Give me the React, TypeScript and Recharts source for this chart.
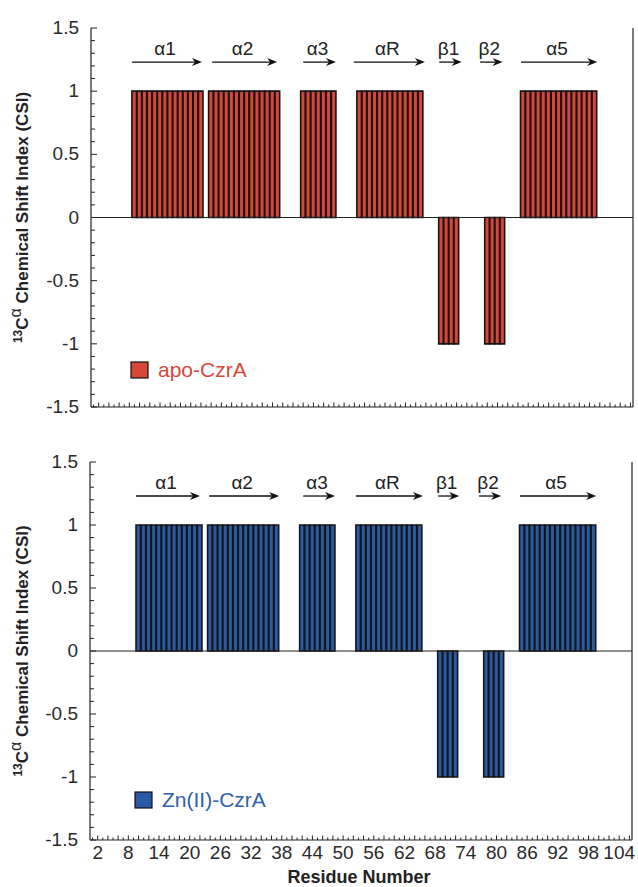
import React from 'react';
import { BarChart, Bar, XAxis, YAxis, ReferenceLine, Legend } from 'recharts';

const residues = [
  1, 2, 3, 4, 5, 6, 7, 8, 9, 10,
  11, 12, 13, 14, 15, 16, 17, 18, 19, 20,
  21, 22, 23, 24, 25, 26, 27, 28, 29, 30,
  31, 32, 33, 34, 35, 36, 37, 38, 39, 40,
  41, 42, 43, 44, 45, 46, 47, 48, 49, 50,
  51, 52, 53, 54, 55, 56, 57, 58, 59, 60,
  61, 62, 63, 64, 65, 66, 67, 68, 69, 70,
  71, 72, 73, 74, 75, 76, 77, 78, 79, 80,
  81, 82, 83, 84, 85, 86, 87, 88, 89, 90,
  91, 92, 93, 94, 95, 96, 97, 98, 99, 100,
  101, 102, 103, 104, 105, 106,
];

const apoCSI = [
  0, 0, 0, 0, 0, 0, 0, 0, 1, 1,
  1, 1, 1, 1, 1, 1, 1, 1, 1, 1,
  1, 1, 0, 1, 1, 1, 1, 1, 1, 1,
  1, 1, 1, 1, 1, 1, 1, 0, 0, 0,
  0, 1, 1, 1, 1, 1, 1, 1, 0, 0,
  0, 0, 1, 1, 1, 1, 1, 1, 1, 1,
  1, 1, 1, 1, 1, 0, 0, 0, -1, -1,
  -1, -1, 0, 0, 0, 0, 0, -1, -1, -1,
  -1, 0, 0, 0, 1, 1, 1, 1, 1, 1,
  1, 1, 1, 1, 1, 1, 1, 1, 1, 0,
  0, 0, 0, 0, 0, 0,
];

const znCSI = [
  0, 0, 0, 0, 0, 0, 0, 0, 0, 1,
  1, 1, 1, 1, 1, 1, 1, 1, 1, 1,
  1, 1, 0, 1, 1, 1, 1, 1, 1, 1,
  1, 1, 1, 1, 1, 1, 1, 0, 0, 0,
  0, 1, 1, 1, 1, 1, 1, 1, 0, 0,
  0, 0, 1, 1, 1, 1, 1, 1, 1, 1,
  1, 1, 1, 1, 1, 0, 0, 0, -1, -1,
  -1, -1, 0, 0, 0, 0, 0, -1, -1, -1,
  -1, 0, 0, 0, 1, 1, 1, 1, 1, 1,
  1, 1, 1, 1, 1, 1, 1, 1, 1, 0,
  0, 0, 0, 0, 0, 0,
];

const xTickLabels = [2, 8, 14, 20, 26, 32, 38, 44, 50, 56, 62, 68, 74, 80, 86, 92, 98, 104];
const yTicks = [
  -1.5, -1.4, -1.3, -1.2, -1.1, -1, -0.9, -0.8, -0.7, -0.6, -0.5, -0.4, -0.3, -0.2, -0.1, 0,
  0.1, 0.2, 0.3, 0.4, 0.5, 0.6, 0.7, 0.8, 0.9, 1, 1.1, 1.2, 1.3, 1.4, 1.5,
];
const yTickLabels = [-1.5, -1, -0.5, 0, 0.5, 1, 1.5];

const structNames = ['α1', 'α2', 'α3', 'αR', 'β1', 'β2', 'α5'];
const apoArrowStart = [8.5, 24.2, 42, 51.9, 68.6, 76.6, 84.6];
const apoArrowEnd = [22.2, 36.9, 48.4, 65.8, 73, 81, 99.5];
const znArrowStart = [9.5, 23.8, 42.2, 52.5, 68.6, 76.6, 84.6];
const znArrowEnd = [22.0, 37.5, 48.4, 65.6, 72.7, 80.9, 99.5];
const arrowLevel = 1.23;

const FONT = '"Liberation Sans", Arial, Helvetica, sans-serif';
const INK = '#222';

const XTick = (props: any) => {
  const { x, y, payload, side, showLabel } = props;
  const v = payload.value;
  const len = v % 2 === 0 ? 4.5 : 2.5;
  const dir = side === 'bottom' ? -1 : 1;
  return (
    <g>
      <line x1={x} x2={x} y1={y} y2={y + dir * len} stroke={INK} strokeWidth={1} />
      {showLabel && xTickLabels.includes(v) ? (
        <text x={x} y={y + 19} textAnchor="middle" fontSize={19} fontFamily={FONT} fill="#2a2a2a">
          {v}
        </text>
      ) : null}
    </g>
  );
};

const YTick = (props: any) => {
  const { x, y, payload, side } = props;
  const v = payload.value;
  const major = yTickLabels.some((t) => Math.abs(t - v) < 1e-6);
  const len = major ? 6 : 4;
  const dir = side === 'left' ? 1 : -1;
  return (
    <g>
      <line x1={x} x2={x + dir * len} y1={y} y2={y} stroke={INK} strokeWidth={1} />
      {side === 'left' && major ? (
        <text x={x - 12} y={y + 6} textAnchor="end" fontSize={19} fontFamily={FONT} fill="#2a2a2a">
          {String(Math.round(v * 10) / 10)}
        </text>
      ) : null}
    </g>
  );
};

const Arrow = (props: any) => {
  const { x1, y1, x2, y2, text } = props;
  const head = 10;
  return (
    <g>
      <line x1={x1} y1={y1} x2={x2 - head + 3} y2={y2} stroke="#111" strokeWidth={1.3} />
      <polygon
        points={`${x2},${y2} ${x2 - head},${y2 - 4} ${x2 - head + 3},${y2} ${x2 - head},${y2 + 4}`}
        fill="#111"
      />
      <text x={(x1 + x2) / 2 - 2} y={y1 - 7} textAnchor="middle" fontSize={19} fontFamily={FONT} fill={INK}>
        {text}
      </text>
    </g>
  );
};

const YLabel = (props: any) => {
  const vb = props.viewBox || { x: 0, y: 0, width: 0, height: 0 };
  const cx = vb.x + 28;
  const cy = vb.y + vb.height / 2;
  return (
    <text
      transform={`translate(${cx},${cy}) rotate(-90)`}
      textAnchor="middle"
      fontFamily={FONT}
      fontWeight="bold"
      fontSize={17}
      fill={INK}
    >
      <tspan fontSize={12} dy={-6}>13</tspan>
      <tspan dy={6}>C</tspan>
      <tspan fontSize={16} fontWeight="normal" dy={-7}>α</tspan>
      <tspan dy={7}> Chemical Shift Index (CSI)</tspan>
    </text>
  );
};

const XLabel = (props: any) => {
  const vb = props.viewBox || { x: 0, y: 0, width: 0, height: 0 };
  return (
    <text
      x={vb.x + vb.width / 2 - 2}
      y={vb.y + 43}
      textAnchor="middle"
      fontFamily={FONT}
      fontWeight="bold"
      fontSize={18}
      fill={INK}
    >
      Residue Number
    </text>
  );
};

const LegendContent = (props: any) => {
  const item = (props.payload || [])[0];
  if (!item) return null;
  const textColor = props.textColor;
  return (
    <div style={{ display: 'flex', alignItems: 'center', whiteSpace: 'nowrap' }}>
      <svg width={19} height={18} style={{ display: 'block' }}>
        <rect x={1} y={1} width={17} height={16} fill={item.color} stroke="#111" strokeWidth={1.2} />
      </svg>
      <span style={{ marginLeft: 9, color: textColor, fontSize: 21, fontFamily: FONT, lineHeight: '18px' }}>
        {item.value}
      </span>
    </div>
  );
};

type PanelProps = {
  values: number[];
  name: string;
  fill: string;
  textColor: string;
  arrowStart: number[];
  arrowEnd: number[];
  showXLabels: boolean;
  height: number;
  marginTop: number;
  leftW: number;
  rightW: number;
  bottomH: number;
  legendLeft: number;
  legendTop: number;
};

function Panel(p: PanelProps) {
  const width = 638;
  const data = residues.map((r, i) => ({ residue: r, csi: p.values[i] }));
  const plotW = width - p.leftW - p.rightW;
  const axisLine = { stroke: INK, strokeWidth: 1.2 };
  return (
    <BarChart
      width={width}
      height={p.height}
      data={data}
      margin={{ top: p.marginTop, right: 0, bottom: 0, left: 0 }}
      barCategoryGap={0}
      barGap={0}
    >
      <XAxis
        xAxisId="b"
        dataKey="residue"
        type="number"
        domain={[0.5, 106.5]}
        ticks={residues}
        interval={0}
        tickSize={0}
        tickMargin={0}
        height={p.bottomH}
        axisLine={axisLine}
        tickLine={false}
        tick={(tp: any) => <XTick {...tp} side="bottom" showLabel={p.showXLabels} />}
        label={p.showXLabels ? (lp: any) => <XLabel {...lp} /> : undefined}
      />
      <XAxis
        xAxisId="t"
        orientation="top"
        dataKey="residue"
        type="number"
        domain={[0.5, 106.5]}
        ticks={residues}
        interval={0}
        tickSize={0}
        tickMargin={0}
        height={0}
        axisLine={axisLine}
        tickLine={false}
        tick={(tp: any) => <XTick {...tp} side="top" showLabel={false} />}
      />
      <YAxis
        yAxisId="l"
        type="number"
        domain={[-1.5, 1.5]}
        ticks={yTicks}
        interval={0}
        tickSize={0}
        tickMargin={0}
        width={p.leftW}
        axisLine={axisLine}
        tickLine={false}
        tick={(tp: any) => <YTick {...tp} side="left" />}
        label={(lp: any) => <YLabel {...lp} />}
      />
      <YAxis
        yAxisId="r"
        orientation="right"
        type="number"
        domain={[-1.5, 1.5]}
        ticks={yTicks}
        interval={0}
        tickSize={0}
        tickMargin={0}
        width={p.rightW}
        axisLine={axisLine}
        tickLine={false}
        tick={(tp: any) => <YTick {...tp} side="right" />}
      />
      <Bar
        xAxisId="b"
        yAxisId="l"
        dataKey="csi"
        name={p.name}
        fill={p.fill}
        stroke="#151515"
        strokeWidth={1.6}
        barSize={plotW / 106}
        isAnimationActive={false}
      />
      <ReferenceLine xAxisId="b" yAxisId="l" y={0} stroke={INK} strokeWidth={1.2} />
      {structNames.map((s, i) => (
        <ReferenceLine
          key={s}
          xAxisId="b"
          yAxisId="l"
          segment={[
            { x: p.arrowStart[i], y: arrowLevel },
            { x: p.arrowEnd[i], y: arrowLevel },
          ]}
          shape={(lp: any) => <Arrow {...lp} text={s} />}
        />
      ))}
      <Legend
        layout="vertical"
        align="center"
        verticalAlign="middle"
        wrapperStyle={{ left: p.legendLeft, top: p.legendTop, width: 'auto', height: 'auto' }}
        content={(lp: any) => <LegendContent {...lp} textColor={p.textColor} />}
      />
    </BarChart>
  );
}

export default function App() {
  return (
    <div style={{ position: 'absolute', left: 0, top: 0, width: 638, height: 887, background: '#fff' }}>
      <div style={{ position: 'absolute', left: 0, top: 0 }}>
        <Panel
          values={apoCSI}
          name="apo-CzrA"
          fill="#d8463a"
          textColor="#d4493b"
          arrowStart={apoArrowStart}
          arrowEnd={apoArrowEnd}
          showXLabels={false}
          height={430}
          marginTop={28}
          leftW={91}
          rightW={5}
          bottomH={23}
          legendLeft={130}
          legendTop={361}
        />
      </div>
      <div style={{ position: 'absolute', left: 0, top: 430 }}>
        <Panel
          values={znCSI}
          name="Zn(II)-CzrA"
          fill="#2a5aa3"
          textColor="#2f5fae"
          arrowStart={znArrowStart}
          arrowEnd={znArrowEnd}
          showXLabels={true}
          height={457}
          marginTop={32}
          leftW={90}
          rightW={6}
          bottomH={47}
          legendLeft={134}
          legendTop={361}
        />
      </div>
    </div>
  );
}
